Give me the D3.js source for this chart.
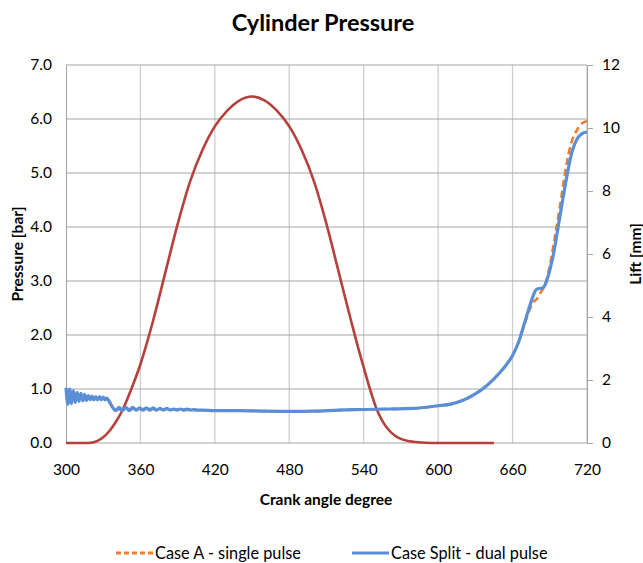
<!DOCTYPE html>
<html>
<head>
<meta charset="utf-8">
<script src="https://cdn.jsdelivr.net/npm/d3@7"></script>
<style>
  body { margin: 0; background: #fff; }
  svg { display: block; }
</style>
</head>
<body>
<svg id="chart"></svg>
<script>
// values
var splitAngle = [300, 301.5, 303, 304.5, 306, 307.5, 309, 310.5, 312, 313.5, 315, 316.5, 318, 319.5,
  321, 322.5, 324, 325.5, 327, 328.5, 330, 331.5, 333, 335, 337, 339, 340,
  342.75, 345.5, 348.25, 351, 353.75, 356.5, 359.25, 362, 364.75, 367.5, 370.25, 373, 375.75,
  378.5, 381.25, 384, 386.75, 389.5, 392.25, 395, 397.75, 400.5, 403.25, 406, 410,
  420, 440, 460, 480, 500, 520, 540, 560, 580, 600, 610, 620, 630, 640, 650, 655, 660, 665,
  670, 674, 677, 679, 681, 684, 687, 690, 693, 696, 700, 704, 708, 712, 716, 720];
var splitPressure = [1.02, 0.72, 1.00, 0.73, 0.97, 0.75, 0.94, 0.77, 0.92, 0.78, 0.90, 0.79, 0.88, 0.80,
  0.87, 0.80, 0.86, 0.80, 0.86, 0.80, 0.85, 0.80, 0.83, 0.76, 0.68, 0.62, 0.60,
  0.66, 0.60, 0.66, 0.60, 0.66, 0.61, 0.65, 0.61, 0.65, 0.61, 0.65, 0.61, 0.64,
  0.61, 0.64, 0.61, 0.63, 0.61, 0.63, 0.61, 0.63, 0.61, 0.62, 0.61, 0.61,
  0.60, 0.60, 0.59, 0.585, 0.59, 0.61, 0.62, 0.63, 0.64, 0.69, 0.72, 0.79, 0.91, 1.08, 1.31, 1.45, 1.62, 1.88,
  2.25, 2.55, 2.75, 2.84, 2.86, 2.87, 2.97, 3.20, 3.50, 3.90, 4.45, 4.97, 5.40, 5.63, 5.73, 5.76];

var caseAAngle = [300, 333, 340, 360, 400, 420, 440, 460, 480, 500, 520, 540, 560, 580, 600, 610, 620, 630,
  640, 650, 655, 660, 665, 670, 672, 676, 680, 683, 686, 690, 694, 699, 703, 707, 712, 716, 720];
var caseAPressure = [0.86, 0.81, 0.62, 0.63, 0.61, 0.60, 0.60, 0.59, 0.585, 0.59, 0.61, 0.62, 0.63, 0.64, 0.69, 0.72, 0.79, 0.91,
  1.08, 1.31, 1.45, 1.62, 1.88, 2.22, 2.36, 2.58, 2.68, 2.80, 2.92, 3.28, 3.80, 4.50, 5.10, 5.53, 5.80, 5.92, 5.96];

var liftAngle = [300, 318, 325, 330, 335, 340, 345, 350, 355, 360, 365, 370, 380, 390, 400, 410, 420, 430, 440, 450,
  460, 470, 480, 490, 500, 510, 520, 525, 530, 535, 540, 545, 550, 555, 560, 565, 570, 575, 580, 590, 600, 645];
var liftValues = [0, 0, 0.06, 0.18, 0.38, 0.66, 1.00, 1.45, 1.95, 2.50, 3.15, 3.85, 5.40, 6.95, 8.30, 9.30, 10.05, 10.55, 10.88, 11.0,
  10.88, 10.55, 10.05, 9.30, 8.30, 6.95, 5.40, 4.62, 3.85, 3.10, 2.40, 1.72, 1.12, 0.70, 0.42, 0.24, 0.13, 0.07, 0.04, 0.01, 0, 0];

var xTicks = [300, 360, 420, 480, 540, 600, 660, 720];
var pTicks = [0, 1, 2, 3, 4, 5, 6, 7];
var liftTicks = [0, 2, 4, 6, 8, 10, 12];

var W = 643, H = 563;
var margin = {top: 65, right: 56, bottom: 120, left: 66},
    width = W - margin.left - margin.right,
    height = H - margin.top - margin.bottom;

var font = "Lato, 'Open Sans', sans-serif";

var x = d3.scaleLinear().domain([300, 720]).range([0, width]);
var y = d3.scaleLinear().domain([0, 7]).range([height, 0]);
var yLift = d3.scaleLinear().domain([0, 12]).range([height, 0]);

var svg = d3.select("#chart")
    .attr("width", W)
    .attr("height", H)
    .style("font-family", font);

var g = svg.append("g")
    .attr("transform", "translate(" + margin.left + "," + margin.top + ")");

// vertical grid
g.append("g")
    .selectAll("line")
    .data(xTicks.slice(1))
    .enter().append("line")
    .attr("x1", function(d) { return x(d); })
    .attr("x2", function(d) { return x(d); })
    .attr("y1", 0)
    .attr("y2", height)
    .attr("stroke", "#cfcfcf")
    .attr("stroke-width", 1.3);

// horizontal grid
g.append("g")
    .selectAll("line")
    .data(pTicks)
    .enter().append("line")
    .attr("x1", 0)
    .attr("x2", width)
    .attr("y1", function(d) { return y(d); })
    .attr("y2", function(d) { return y(d); })
    .attr("stroke", "#a6a6a6")
    .attr("stroke-width", 1.1);

// left axis
var leftAxis = g.append("g")
    .call(d3.axisLeft(y).tickValues(pTicks).tickSize(0).tickPadding(14).tickFormat(d3.format(".1f")));
leftAxis.select(".domain").attr("stroke", "#a6a6a6").attr("stroke-width", 1.1);
leftAxis.selectAll("text").style("font-size", "15.5px").style("font-family", font).attr("fill", "#000");

// bottom axis
var bottomAxis = g.append("g")
    .attr("transform", "translate(0," + height + ")")
    .call(d3.axisBottom(x).tickValues(xTicks).tickSize(0).tickPadding(21));
bottomAxis.select(".domain").remove();
bottomAxis.selectAll("text").style("font-size", "15.5px").style("font-family", font).attr("fill", "#000");

// right axis
var rightAxis = g.append("g")
    .attr("transform", "translate(" + width + ",0)")
    .call(d3.axisRight(yLift).tickValues(liftTicks).tickSize(6).tickSizeOuter(0).tickPadding(9));
rightAxis.select(".domain").attr("stroke", "#a6a6a6").attr("stroke-width", 1.1);
rightAxis.selectAll("line").attr("stroke", "#a6a6a6");
rightAxis.selectAll("text").style("font-size", "15.5px").style("font-family", font).attr("fill", "#000");

// lines
var pressureLine = d3.line()
    .x(function(d) { return x(d[0]); })
    .y(function(d) { return y(d[1]); })
    .curve(d3.curveMonotoneX);

var liftLine = d3.line()
    .x(function(d) { return x(d[0]); })
    .y(function(d) { return yLift(d[1]); })
    .curve(d3.curveMonotoneX);

g.append("path")
    .datum(d3.zip(liftAngle, liftValues))
    .attr("fill", "none")
    .attr("stroke", "#b5403d")
    .attr("stroke-width", 2.6)
    .attr("d", liftLine);

g.append("path")
    .datum(d3.zip(caseAAngle, caseAPressure))
    .attr("fill", "none")
    .attr("stroke", "#ed7d31")
    .attr("stroke-width", 2.6)
    .attr("stroke-dasharray", "7,4")
    .attr("d", pressureLine);

g.append("path")
    .datum(d3.zip(splitAngle, splitPressure))
    .attr("fill", "none")
    .attr("stroke", "#5a8fd8")
    .attr("stroke-width", 3.2)
    .attr("stroke-linejoin", "round")
    .attr("d", pressureLine);

// title
svg.append("text")
    .attr("x", 323)
    .attr("y", 31)
    .attr("text-anchor", "middle")
    .style("font-size", "23.5px")
    .style("font-weight", "bold")
    .text("Cylinder Pressure");

// axis titles
svg.append("text")
    .attr("transform", "translate(" + 23 + "," + (margin.top + height / 2) + ") rotate(-90)")
    .attr("text-anchor", "middle")
    .style("font-size", "15.5px")
    .style("font-weight", "bold")
    .text("Pressure [bar]");

svg.append("text")
    .attr("transform", "translate(" + 641 + "," + (margin.top + height / 2) + ") rotate(-90)")
    .attr("text-anchor", "middle")
    .style("font-size", "15.5px")
    .style("font-weight", "bold")
    .text("Lift [mm]");

svg.append("text")
    .attr("x", 326)
    .attr("y", 505)
    .attr("text-anchor", "middle")
    .style("font-size", "15.5px")
    .style("font-weight", "bold")
    .text("Crank angle degree");

// legend
var legend = [
  {name: "Case A - single pulse", color: "#ed7d31", dash: "5,3", x: 116},
  {name: "Case Split - dual pulse", color: "#5a8fd8", dash: null, x: 352}
];
var lg = svg.append("g").selectAll("g")
    .data(legend)
    .enter().append("g")
    .attr("transform", function(d) { return "translate(" + d.x + ",553)"; });
lg.append("line")
    .attr("x1", 0).attr("x2", 37)
    .attr("stroke", function(d) { return d.color; })
    .attr("stroke-width", 3)
    .attr("stroke-dasharray", function(d) { return d.dash; });
lg.append("text")
    .attr("x", 39)
    .attr("y", 5.5)
    .style("font-size", "16.3px")
    .text(function(d) { return d.name; });
</script>
</body>
</html>
